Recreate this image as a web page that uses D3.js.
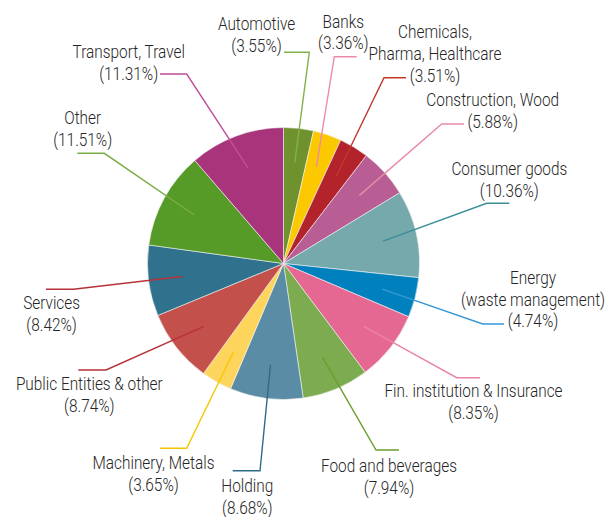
<!DOCTYPE html>
<html><head><meta charset="utf-8">
<script src="https://cdn.jsdelivr.net/npm/d3@7"></script>
<style>
html,body{margin:0;padding:0;background:#fff;}
svg{display:block;}
</style></head>
<body>
<svg id="chart" width="606" height="517"></svg>
<script>
// ---- data ----
const categories = ["Automotive","Banks","Chemicals,\nPharma, Healthcare","Construction, Wood","Consumer goods","Energy\n(waste management)","Fin. institution & Insurance","Food and beverages","Holding","Machinery, Metals","Public Entities & other","Services","Other","Transport, Travel"];
const values = [3.55,3.36,3.51,5.88,10.36,4.74,8.35,7.94,8.68,3.65,8.74,8.42,11.51,11.31];
const sliceColors = ["#6f922f","#fcc800","#b3232b","#b85e95","#75a9ab","#0080bc","#e46891","#7dab4f","#5b8ca5","#fdd55d","#c3504b","#30728e","#569a28","#a8347c"];
const lineColors = ["#80b24c","#ec89ad","#c0392b","#e88aa8","#3a8f99","#3598d8","#ea85a8","#6a9f2f","#2e6b8a","#f6c700","#b8313a","#b8313a","#7aad46","#c04e9a"];
// label layout (annotation placement): elbow point, end of horizontal leader, text centre x, first baseline
const labelElbow = [[309.3,52.3],[334.3,56.7],[384,77.7],[441.7,124],[486.7,203.3],[482.7,324],[456.7,377.7],[376,450],[260,470.7],[186.7,448.3],[106,370],[73.3,289.3],[104.3,153.3],[186.7,74]];
const labelEndX = [284,356.7,406,464,509.3,504,480,399,232.7,160,78.3,46,77.3,160];
const labelCx = [256.5,343.3,435,492.7,509.3,533,473.5,389,247.3,153.5,89.3,51.6,82.7,128.7];
const labelY = [30,27.7,38.5,106,175,284,397,472.3,492.5,469.3,390,309.3,124,58.3];

const W = 606, H = 517;
const cx = 283.5, cy = 263.5, R = 136;
const lineGap = 21.6;

const svg = d3.select("#chart");
const data = categories.map((c,i)=>({name:c, value:values[i], i}));

const pie = d3.pie().value(d=>d.value).sort(null);
const arcs = pie(data);
const arc = d3.arc().innerRadius(0).outerRadius(R);

const g = svg.append("g").attr("transform",`translate(${cx},${cy})`);
g.selectAll("path.slice").data(arcs).enter().append("path")
  .attr("class","slice")
  .attr("d",arc)
  .attr("fill",d=>sliceColors[d.data.i])
  .attr("stroke","#f4f4f4")
  .attr("stroke-width",0.6);

// leader lines
const lg = svg.append("g");
arcs.forEach(d=>{
  const i = d.data.i;
  const a = (d.startAngle+d.endAngle)/2;
  const p0 = [cx + Math.sin(a)*R*0.75, cy - Math.cos(a)*R*0.75];
  const e = labelElbow[i];
  lg.append("path")
    .attr("d", d3.line()([p0, e, [labelEndX[i], e[1]]]))
    .attr("fill","none")
    .attr("stroke", lineColors[i])
    .attr("stroke-width",1.4);
});

// labels
const tg = svg.append("g")
  .attr("font-family","Roboto,'Liberation Sans',sans-serif")
  .attr("font-weight",300)
  .attr("font-size","19px")
  .attr("fill","#262626");

// condense horizontally to match the narrow face of the original
const probe = tg.append("text").text("Public Entities & other");
const sx = 147 / probe.node().getComputedTextLength();
probe.remove();

data.forEach((d,i)=>{
  const lines = d.name.split("\n").concat(["(" + d.value.toFixed(2) + "%)"]);
  const x0 = labelCx[i];
  const t = tg.append("text").attr("text-anchor","middle")
    .attr("transform",`translate(${x0},0) scale(${sx},1)`);
  lines.forEach((ln,k)=>{
    t.append("tspan").attr("x",0).attr("y",labelY[i]+k*lineGap).text(ln);
  });
});
</script>
</body></html>
